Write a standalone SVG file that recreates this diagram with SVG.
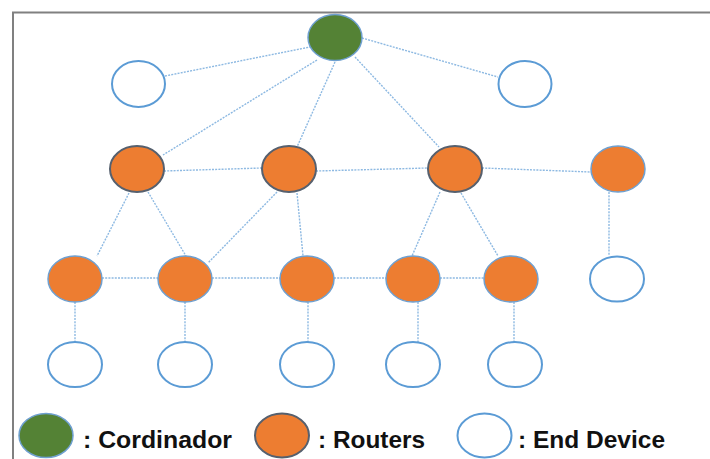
<svg xmlns="http://www.w3.org/2000/svg" width="710" height="459" viewBox="0 0 710 459">
<style>
.frame{stroke:#808080;stroke-width:2;fill:none}
.link{stroke:#8db9e2;stroke-width:1.4;stroke-dasharray:2 1.2;fill:none}
.coord{fill:#548235;stroke:#6fa0d0;stroke-width:1.5}
.r1{fill:#ed7d31;stroke:#56606e;stroke-width:2}
.r2{fill:#ed7d31;stroke:#6fa0d0;stroke-width:1.5}
.end{fill:#ffffff;stroke:#5b9bd5;stroke-width:2}
.lbl{font-family:"Liberation Sans",Arial,sans-serif;font-weight:bold;font-size:24px;fill:#111111}
</style>
<rect width="710" height="459" fill="#ffffff"/>
<path class="frame" d="M13 459 V12.5 H710"/>
<g id="connectors">
<line class="link" x1="165" y1="76" x2="310" y2="47"/>
<line class="link" x1="362" y1="38" x2="498" y2="77"/>
<line class="link" x1="317" y1="60" x2="163" y2="155"/>
<line class="link" x1="335" y1="62" x2="297" y2="147"/>
<line class="link" x1="355" y1="57" x2="439" y2="147"/>
<line class="link" x1="164" y1="171" x2="262" y2="168"/>
<line class="link" x1="316" y1="171" x2="428" y2="168"/>
<line class="link" x1="482" y1="168" x2="591" y2="172"/>
<line class="link" x1="129" y1="193" x2="97" y2="256"/>
<line class="link" x1="148" y1="192" x2="186" y2="256"/>
<line class="link" x1="277" y1="192" x2="208" y2="263"/>
<line class="link" x1="297" y1="193" x2="303" y2="256"/>
<line class="link" x1="440" y1="192" x2="412" y2="256"/>
<line class="link" x1="461" y1="193" x2="498" y2="256"/>
<line class="link" x1="609" y1="192" x2="609" y2="256"/>
<line class="link" x1="102" y1="278" x2="158" y2="278"/>
<line class="link" x1="212" y1="278" x2="280" y2="278"/>
<line class="link" x1="334" y1="278" x2="386" y2="278"/>
<line class="link" x1="440" y1="278" x2="484" y2="278"/>
<line class="link" x1="75" y1="302" x2="75" y2="342"/>
<line class="link" x1="185" y1="302" x2="185" y2="342"/>
<line class="link" x1="308" y1="302" x2="308" y2="342"/>
<line class="link" x1="418" y1="302" x2="418" y2="342"/>
<line class="link" x1="514" y1="302" x2="514" y2="342"/>
</g>
<g id="coordinator"><ellipse class="coord" cx="335" cy="37.5" rx="27" ry="23"/></g>
<g id="end-top-left"><ellipse class="end" cx="138.5" cy="84" rx="26.5" ry="23"/></g>
<g id="end-top-right"><ellipse class="end" cx="525" cy="84" rx="26.5" ry="23"/></g>
<g id="router-1"><ellipse class="r1" cx="137" cy="169" rx="27" ry="23"/></g>
<g id="router-2"><ellipse class="r1" cx="289" cy="169" rx="27" ry="23"/></g>
<g id="router-3"><ellipse class="r1" cx="455" cy="169" rx="27" ry="23"/></g>
<g id="router-4"><ellipse class="r2" cx="618" cy="169" rx="27" ry="23"/></g>
<g id="router-5"><ellipse class="r2" cx="75" cy="279" rx="27" ry="23"/></g>
<g id="router-6"><ellipse class="r2" cx="185" cy="279" rx="27" ry="23"/></g>
<g id="router-7"><ellipse class="r2" cx="307" cy="279" rx="27" ry="23"/></g>
<g id="router-8"><ellipse class="r2" cx="413" cy="279" rx="27" ry="23"/></g>
<g id="router-9"><ellipse class="r2" cx="511" cy="279" rx="27" ry="23"/></g>
<g id="end-right"><ellipse class="end" cx="617" cy="279" rx="27" ry="22.5"/></g>
<g id="end-1"><ellipse class="end" cx="75" cy="364.5" rx="27" ry="22.5"/></g>
<g id="end-2"><ellipse class="end" cx="185" cy="364.5" rx="27" ry="22.5"/></g>
<g id="end-3"><ellipse class="end" cx="307" cy="364.5" rx="27" ry="22.5"/></g>
<g id="end-4"><ellipse class="end" cx="413" cy="364.5" rx="27" ry="22.5"/></g>
<g id="end-5"><ellipse class="end" cx="515" cy="364.5" rx="27" ry="22.5"/></g>
<g id="legend">
<ellipse class="coord" cx="46" cy="435.5" rx="27" ry="22"/>
<text class="lbl" x="83" y="448" textLength="149" lengthAdjust="spacingAndGlyphs">: Cordinador</text>
<ellipse class="r1" cx="282" cy="435.5" rx="27" ry="22"/>
<text class="lbl" x="318" y="448" textLength="107" lengthAdjust="spacingAndGlyphs">: Routers</text>
<ellipse class="end" cx="484.5" cy="435.5" rx="27" ry="22"/>
<text class="lbl" x="518" y="448" textLength="147" lengthAdjust="spacingAndGlyphs">: End Device</text>
</g>
</svg>
